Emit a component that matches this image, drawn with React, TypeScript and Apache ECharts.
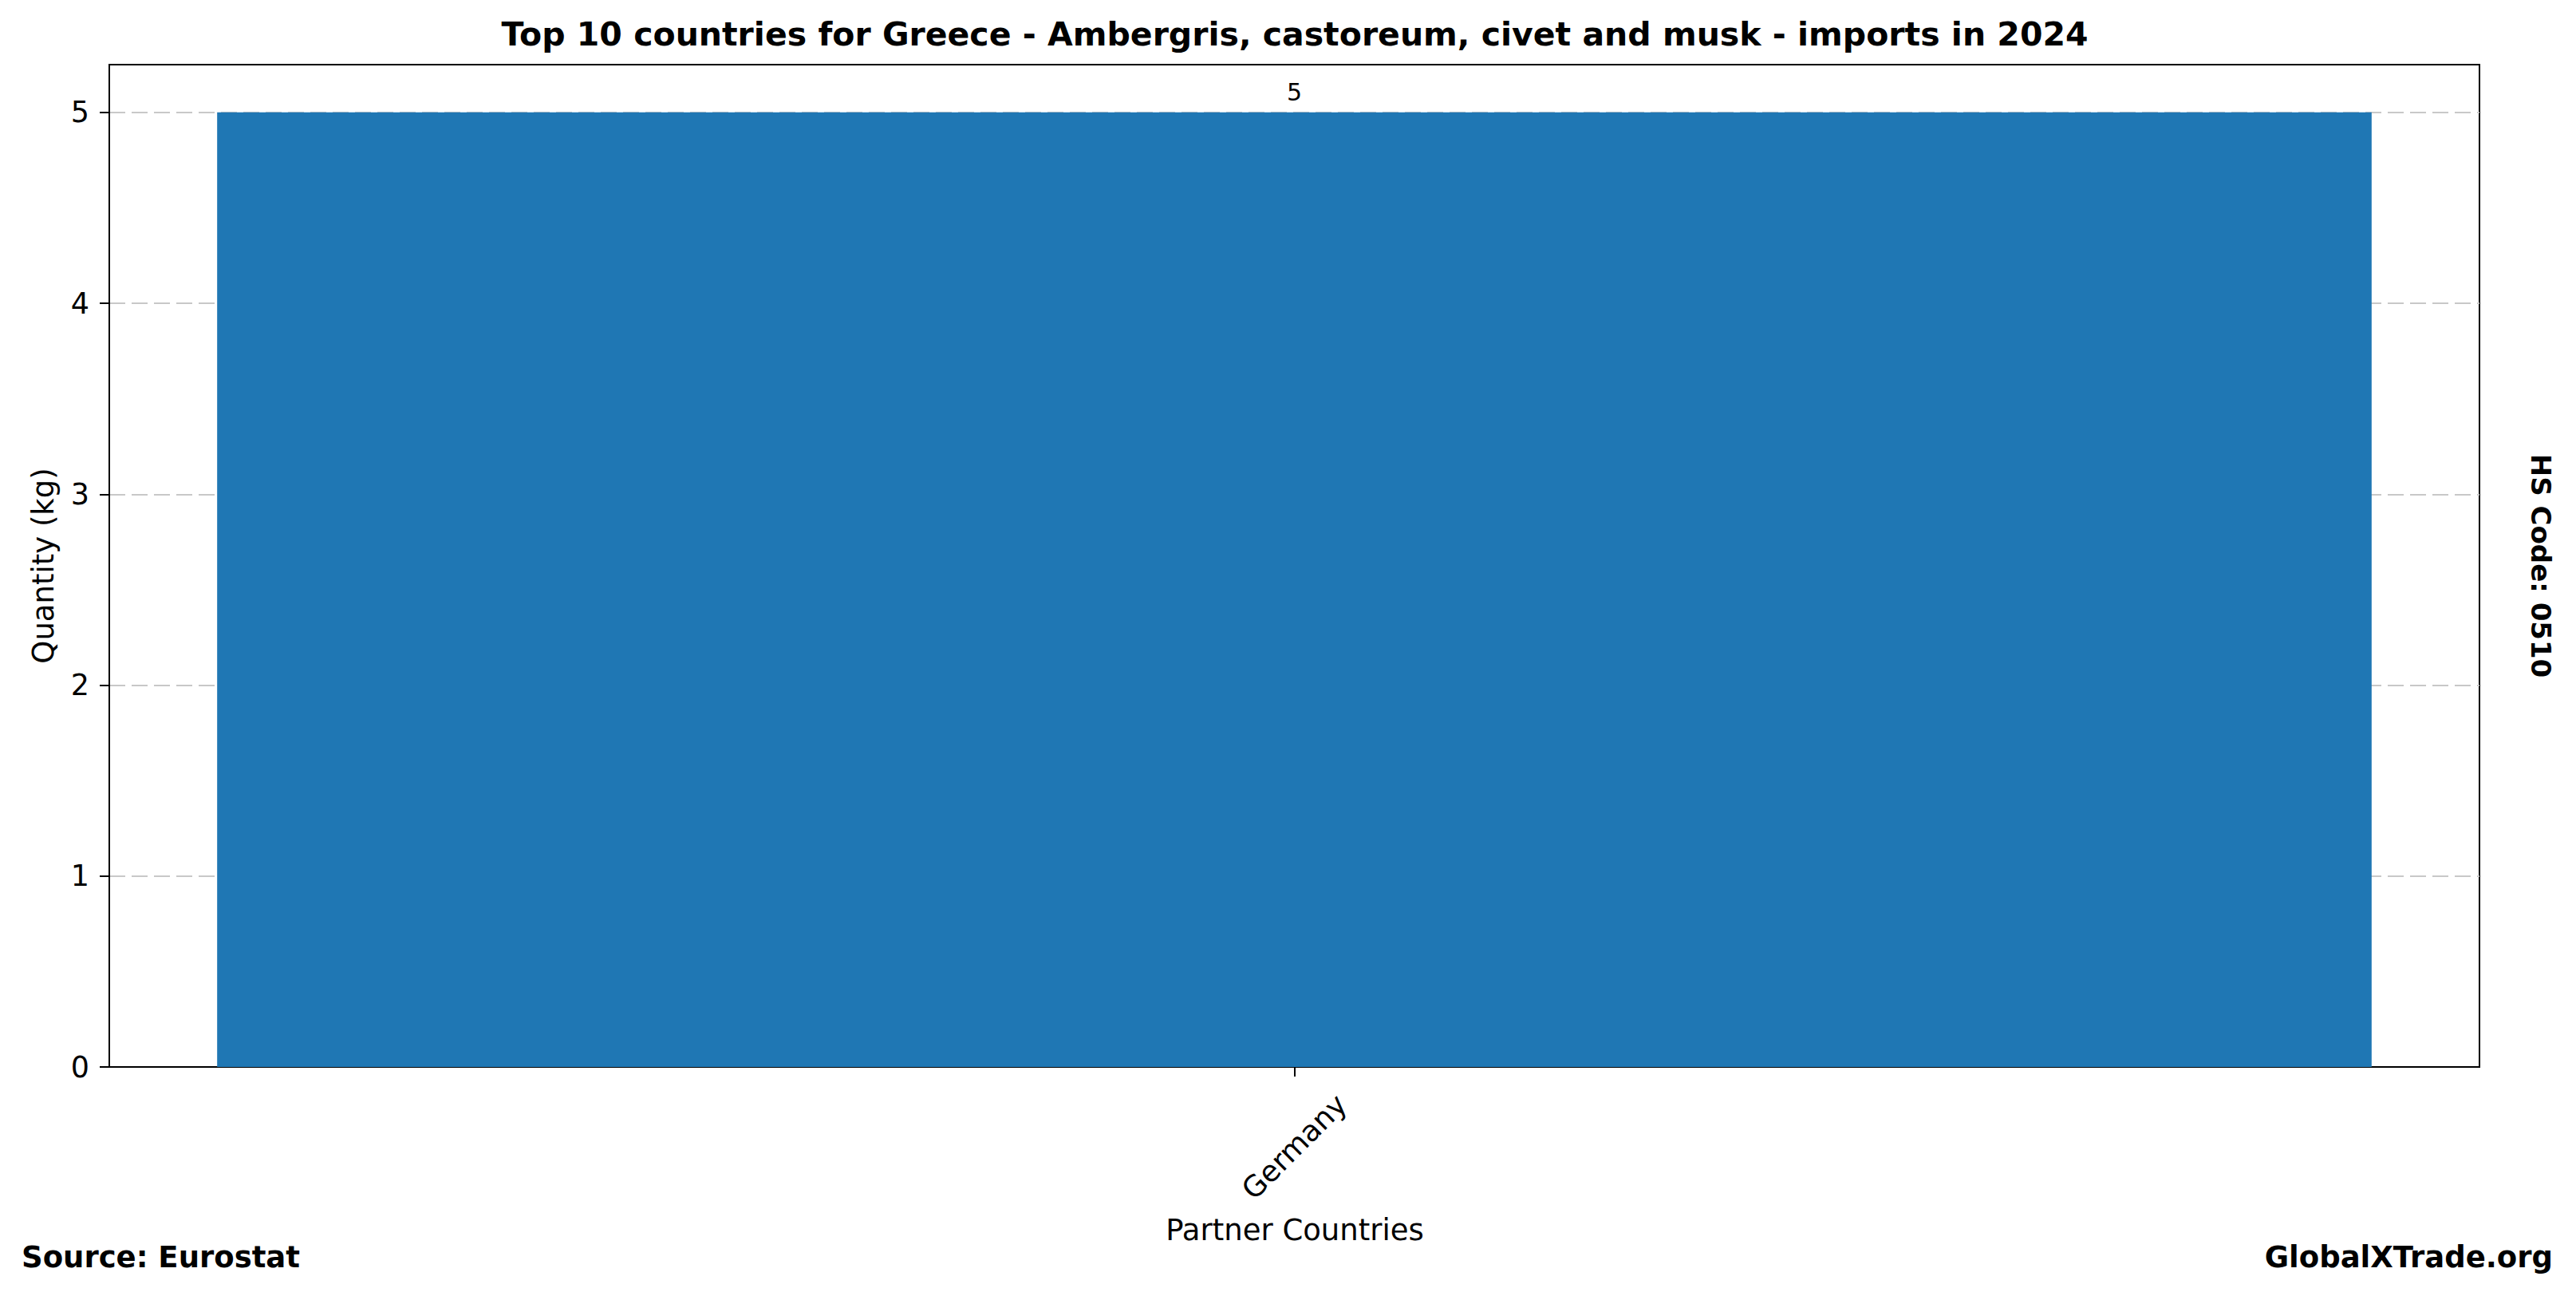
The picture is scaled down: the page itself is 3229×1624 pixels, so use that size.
import React, { useEffect, useRef } from "react";
import * as echarts from "echarts";

const categories = ["Germany"];
const quantities = [5];
const yTicks = [0, 1, 2, 3, 4, 5];
const titleText = "Top 10 countries for Greece - Ambergris, castoreum, civet and musk - imports in 2024";
const xAxisName = "Partner Countries";
const yAxisName = "Quantity (kg)";
const sourceText = "Source: Eurostat";
const siteText = "GlobalXTrade.org";
const hsText = "HS Code: 0510";

const FONT = "DejaVu Sans";

export default function App() {
  const ref = useRef<HTMLDivElement>(null);
  useEffect(() => {
    document.body.style.margin = "0";
    const chart = echarts.init(ref.current!, null, { renderer: "svg" });
    chart.setOption({
      animation: false,
      backgroundColor: "#ffffff",
      textStyle: { fontFamily: FONT },
      grid: {
        left: 137,
        top: 81,
        width: 2971,
        height: 1256,
        show: true,
        borderColor: "#000000",
        borderWidth: 2,
        backgroundColor: "transparent",
      },
      xAxis: {
        type: "category",
        data: categories,
        boundaryGap: true,
        axisLine: { show: true, lineStyle: { color: "#000", width: 2 } },
        axisTick: { show: true, alignWithLabel: true, length: 12, lineStyle: { color: "#000", width: 2 } },
        axisLabel: {
          rotate: 45,
          align: "center",
          verticalAlign: "middle",
          margin: 100,
          fontSize: 36.5,
          color: "#000",
          fontFamily: FONT,
        },
        splitLine: { show: false },
      },
      yAxis: {
        type: "value",
        min: 0,
        max: 5.25,
        interval: 1,
        axisLine: { show: true, lineStyle: { color: "#000", width: 2 } },
        axisTick: { show: true, length: 12, lineStyle: { color: "#000", width: 2 }, customValues: yTicks },
        axisLabel: { fontSize: 36.5, color: "#000", margin: 25, fontFamily: FONT, customValues: yTicks },
        splitLine: { show: true, lineStyle: { color: "#c8c8c8", width: 2, type: [20, 8] } },
      },
      series: [
        {
          type: "bar",
          data: quantities,
          barWidth: "90.9%",
          itemStyle: { color: "#1f77b4" },
          label: { show: true, position: "top", distance: 10, fontSize: 30, color: "#000", fontFamily: FONT },
        },
      ],
      graphic: [
        {
          type: "text",
          x: 1623,
          y: 43,
          style: { text: titleText, font: `bold 41px "${FONT}"`, fill: "#000", align: "center", verticalAlign: "middle" },
        },
        {
          type: "text",
          x: 1623,
          y: 1541,
          style: { text: xAxisName, font: `37px "${FONT}"`, fill: "#000", align: "center", verticalAlign: "middle" },
        },
        {
          type: "text",
          x: 54,
          y: 709,
          rotation: Math.PI / 2,
          style: { text: yAxisName, font: `37px "${FONT}"`, fill: "#000", align: "center", verticalAlign: "middle" },
        },
        {
          type: "text",
          x: 3185,
          y: 709,
          rotation: -Math.PI / 2,
          style: { text: hsText, font: `bold 34px "${FONT}"`, fill: "#000", align: "center", verticalAlign: "middle" },
        },
        {
          type: "text",
          x: 27,
          y: 1575,
          style: { text: sourceText, font: `bold 37px "${FONT}"`, fill: "#000", align: "left", verticalAlign: "middle" },
        },
        {
          type: "text",
          x: 3200,
          y: 1575,
          style: { text: siteText, font: `bold 37px "${FONT}"`, fill: "#000", align: "right", verticalAlign: "middle" },
        },
      ],
    });
    return () => chart.dispose();
  }, []);
  return <div ref={ref} style={{ width: 3229, height: 1624 }} />;
}
